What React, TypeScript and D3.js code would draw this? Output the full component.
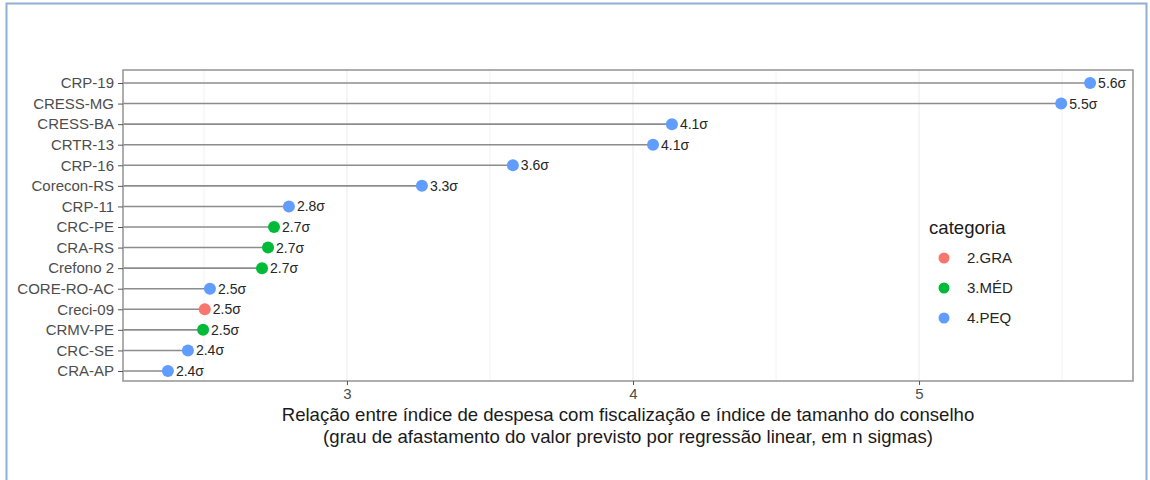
import React, { useRef, useEffect } from 'react';
import * as d3 from 'd3';

const conselhos = [
  'CRP-19', 'CRESS-MG', 'CRESS-BA', 'CRTR-13', 'CRP-16', 'Corecon-RS', 'CRP-11', 'CRC-PE',
  'CRA-RS', 'Crefono 2', 'CORE-RO-AC', 'Creci-09', 'CRMV-PE', 'CRC-SE', 'CRA-AP',
];
const sigmas = [
  5.598, 5.497, 4.136, 4.07, 3.58, 3.262, 2.797, 2.745,
  2.724, 2.703, 2.521, 2.503, 2.497, 2.444, 2.374,
];
const categorias = [
  '4.PEQ', '4.PEQ', '4.PEQ', '4.PEQ', '4.PEQ', '4.PEQ', '4.PEQ', '3.MÉD',
  '3.MÉD', '3.MÉD', '4.PEQ', '2.GRA', '3.MÉD', '4.PEQ', '4.PEQ',
];
const legendLevels = ['2.GRA', '3.MÉD', '4.PEQ'];
const xTicks = [3, 4, 5];
const xMinor = [2.5, 3.5, 4.5, 5.5];
const xTitle = [
  'Relação entre índice de despesa com fiscalização e índice de tamanho do conselho',
  '(grau de afastamento do valor previsto por regressão linear, em n sigmas)',
];

const App: React.FC = () => {
  const ref = useRef<SVGSVGElement | null>(null);

  useEffect(() => {
    if (!ref.current) return;
    const svg = d3.select(ref.current);
    svg.selectAll('*').remove();
    const font = '"Liberation Sans", Arial, sans-serif';
    const panel = { left: 123, right: 1133, top: 70, bottom: 381 };

    const x = d3.scaleLinear().domain([2.217, 5.748]).range([panel.left, panel.right]);
    const y = d3
      .scalePoint<string>()
      .domain(conselhos)
      .range([83, 371]);
    const color = d3
      .scaleOrdinal<string, string>()
      .domain(legendLevels)
      .range(['#F8766D', '#00BA38', '#619CFF']);

    // outer frame
    svg
      .append('path')
      .attr('d', 'M6.5,480 V3.5 H1146.5 V480')
      .attr('fill', 'none')
      .attr('stroke', '#8fb0d3')
      .attr('stroke-width', 2);

    // grid
    svg
      .append('g')
      .selectAll('line')
      .data(xMinor)
      .join('line')
      .attr('x1', (d) => x(d))
      .attr('x2', (d) => x(d))
      .attr('y1', panel.top)
      .attr('y2', panel.bottom)
      .attr('stroke', '#f2f2f2')
      .attr('stroke-width', 1);
    svg
      .append('g')
      .selectAll('line')
      .data(xTicks)
      .join('line')
      .attr('x1', (d) => x(d))
      .attr('x2', (d) => x(d))
      .attr('y1', panel.top)
      .attr('y2', panel.bottom)
      .attr('stroke', '#ebebeb')
      .attr('stroke-width', 1);

    const data = conselhos.map((c, i) => ({ c, v: sigmas[i], cat: categorias[i] }));

    // segments
    svg
      .append('g')
      .selectAll('line')
      .data(data)
      .join('line')
      .attr('x1', panel.left)
      .attr('x2', (d) => x(d.v))
      .attr('y1', (d) => y(d.c)!)
      .attr('y2', (d) => y(d.c)!)
      .attr('stroke', '#8c8c8c')
      .attr('stroke-width', 1.6);

    // dots
    svg
      .append('g')
      .selectAll('circle')
      .data(data)
      .join('circle')
      .attr('cx', (d) => x(d.v))
      .attr('cy', (d) => y(d.c)!)
      .attr('r', 6)
      .attr('fill', (d) => color(d.cat));

    // value labels
    svg
      .append('g')
      .selectAll('text')
      .data(data)
      .join('text')
      .attr('x', (d) => x(d.v) + 8)
      .attr('y', (d) => y(d.c)!)
      .attr('dy', '0.36em')
      .attr('font-family', font)
      .attr('font-size', 14)
      .attr('fill', '#262626')
      .text((d) => d3.format('.1f')(d.v) + 'σ');

    // panel border
    svg
      .append('rect')
      .attr('x', panel.left)
      .attr('y', panel.top)
      .attr('width', panel.right - panel.left)
      .attr('height', panel.bottom - panel.top)
      .attr('fill', 'none')
      .attr('stroke', '#9a9a9a')
      .attr('stroke-width', 1.6);

    // y axis
    const yAxis = svg
      .append('g')
      .attr('transform', `translate(${panel.left},0)`)
      .call(d3.axisLeft(y).tickSize(5).tickPadding(4));
    yAxis.select('.domain').remove();
    yAxis.selectAll('line').attr('stroke', '#555');
    yAxis
      .selectAll('text')
      .attr('font-family', font)
      .attr('font-size', 15)
      .attr('fill', '#4d4d4d');

    // x axis
    const xAxis = svg
      .append('g')
      .attr('transform', `translate(0,${panel.bottom})`)
      .call(d3.axisBottom(x).tickValues(xTicks).tickFormat(d3.format('d')).tickSize(4).tickPadding(3));
    xAxis.select('.domain').remove();
    xAxis.selectAll('line').attr('stroke', '#555');
    xAxis
      .selectAll('text')
      .attr('font-family', font)
      .attr('font-size', 15)
      .attr('fill', '#4d4d4d');

    svg
      .append('g')
      .selectAll('text')
      .data(xTitle)
      .join('text')
      .attr('x', (panel.left + panel.right) / 2)
      .attr('y', (_, i) => 421 + i * 22)
      .attr('text-anchor', 'middle')
      .attr('font-family', font)
      .attr('font-size', 18.6)
      .attr('fill', '#1a1a1a')
      .text((d) => d);

    // legend
    const lg = svg.append('g');
    lg.append('text')
      .attr('x', 929)
      .attr('y', 234)
      .attr('font-family', font)
      .attr('font-size', 18.6)
      .attr('fill', '#1a1a1a')
      .text('categoria');
    const items = lg
      .selectAll('g')
      .data(legendLevels)
      .join('g')
      .attr('transform', (_, i) => `translate(0,${258 + i * 30})`);
    items
      .append('circle')
      .attr('cx', 944)
      .attr('cy', 0)
      .attr('r', 5.5)
      .attr('fill', (d) => color(d));
    items
      .append('text')
      .attr('x', 967)
      .attr('y', 0)
      .attr('dy', '0.36em')
      .attr('font-family', font)
      .attr('font-size', 15)
      .attr('fill', '#262626')
      .text((d) => d);
  }, []);

  return (
    <svg
      ref={ref}
      width={1150}
      height={480}
      style={{ position: 'absolute', left: 0, top: 0, background: '#fff' }}
    />
  );
};

export default App;
